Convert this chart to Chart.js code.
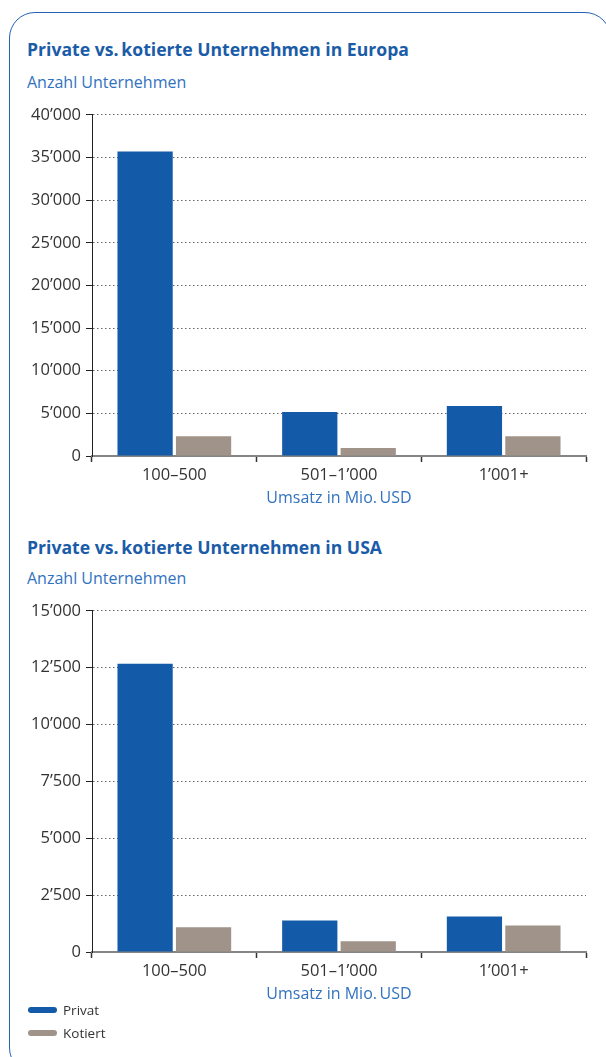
<!DOCTYPE html>
<html>
<head>
<meta charset="utf-8">
<script src="https://cdn.jsdelivr.net/npm/chart.js@4.4.1/dist/chart.umd.min.js"></script>
<style>
  html, body { margin: 0; padding: 0; background: #fff; }
  #page { position: relative; width: 606px; height: 1057px; overflow: hidden; background: #fff; font-family: "Open Sans", sans-serif; }
  #frame { position: absolute; left: 9px; top: 12px; width: 602px; height: 1062px; border: 1.5px solid #2563b5; border-radius: 26px; box-sizing: border-box; }
  .title { position: absolute; left: 27px; font-weight: 700; font-size: 17.6px; line-height: 20px; color: #1a5ca8; white-space: nowrap; }
  .sub { position: absolute; left: 27px; font-size: 16px; line-height: 20px; color: #3272bf; white-space: nowrap; }
  .cwrap { position: absolute; left: 0; width: 606px; height: 420px; }
  #legend { position: absolute; left: 28px; top: 999px; font-size: 13.5px; color: #333; }
  .li { position: relative; height: 23px; line-height: 23px; padding-left: 35px; white-space: nowrap; }
  .li span.m { position: absolute; left: 0; top: 8px; width: 29px; height: 6px; border-radius: 3px; }
</style>
</head>
<body>
<div id="page">
  <div id="frame"></div>
  <div class="title" id="t1" style="top:39px"></div>
  <div class="sub" id="s1" style="top:72px"></div>
  <div class="cwrap" style="top:100px"><canvas id="c1" width="606" height="420"></canvas></div>
  <div class="title" id="t2" style="top:537px"></div>
  <div class="sub" id="s2" style="top:568px"></div>
  <div class="cwrap" style="top:596px"><canvas id="c2" width="606" height="420"></canvas></div>
  <div id="legend"></div>
</div>
<script>
// ---- data ----
const categories = ['100\u2013500', '501\u20131\u2019000', '1\u2019001+'];
const seriesNames = ['Privat', 'Kotiert'];
const europePrivat = [35700, 5150, 5850];
const europeKotiert = [2330, 940, 2330];
const usaPrivat = [12680, 1390, 1560];
const usaKotiert = [1090, 470, 1170];
const europeTicks = [0, 5000, 10000, 15000, 20000, 25000, 30000, 35000, 40000];
const usaTicks = [0, 2500, 5000, 7500, 10000, 12500, 15000];
const titles = ['Private vs.\u2009kotierte Unternehmen in Europa', 'Private vs.\u2009kotierte Unternehmen in USA'];
const yTitle = 'Anzahl Unternehmen';
const xTitle = 'Umsatz in Mio.\u2009USD';
const colors = ['#135aa8', '#a09389'];

document.getElementById('t1').textContent = titles[0];
document.getElementById('t2').textContent = titles[1];
document.getElementById('s1').textContent = yTitle;
document.getElementById('s2').textContent = yTitle;

const leg = document.getElementById('legend');
seriesNames.forEach((n, i) => {
  const d = document.createElement('div'); d.className = 'li';
  const m = document.createElement('span'); m.className = 'm'; m.style.background = colors[i];
  d.appendChild(m); d.appendChild(document.createTextNode(n)); leg.appendChild(d);
});

function fmt(v) {
  return String(v).replace(/\B(?=(\d{3})+(?!\d))/g, '\u2019');
}

function makeChart(id, privat, kotiert, ticks) {
  const tickSet = ticks.slice();
  new Chart(document.getElementById(id), {
    type: 'bar',
    data: {
      labels: categories,
      datasets: [
        { label: seriesNames[0], data: privat, backgroundColor: colors[0] },
        { label: seriesNames[1], data: kotiert, backgroundColor: colors[1] }
      ]
    },
    options: {
      responsive: false,
      animation: false,
      events: [],
      categoryPercentage: 0.71,
      barPercentage: 0.945,
      layout: { padding: { top: 13, right: 20, left: 0, bottom: 0 } },
      plugins: { legend: { display: false }, tooltip: { enabled: false } },
      scales: {
        x: {
          grid: { display: true, drawOnChartArea: false, drawTicks: true, offset: true, tickLength: 6, tickColor: '#333', tickWidth: 1.5 },
          border: { display: true, color: '#858585', width: 2 },
          ticks: { color: '#333', padding: 3, font: { family: 'Open Sans', size: 16.5 } },
          title: { display: true, text: xTitle, color: '#3272bf', font: { family: 'Open Sans', size: 16 }, padding: { top: 0, bottom: 12 } },
          afterFit: (s) => { s.height = 64; }
        },
        y: {
          min: tickSet[0], max: tickSet[tickSet.length - 1],
          afterBuildTicks: (s) => { s.ticks = tickSet.map(v => ({ value: v })); },
          grid: { color: '#666', lineWidth: 1, tickLength: 6, tickColor: '#222', tickWidth: 1 },
          border: { display: true, color: '#222', width: 1, dash: [1.5, 2.5] },
          ticks: { color: '#333', padding: 5, font: { family: 'Open Sans', size: 16.5 }, callback: (v) => fmt(v) },
          afterFit: (s) => { s.width = 92; }
        }
      }
    }
  });
}

makeChart('c1', europePrivat, europeKotiert, europeTicks);
makeChart('c2', usaPrivat, usaKotiert, usaTicks);
</script>
</body>
</html>
